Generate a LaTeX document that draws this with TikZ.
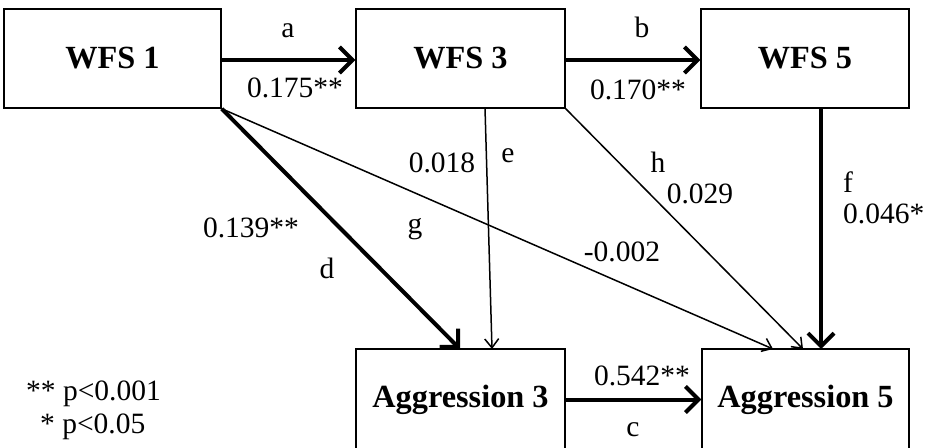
\documentclass[tikz,border=0pt]{standalone}
\usepackage{fontspec}
\setmainfont{Liberation Serif}
\usetikzlibrary{arrows.meta,calc}
\tikzset{
  box/.style={draw, line width=1.5pt, rectangle, minimum height=99pt, inner sep=0pt,
    font=\fontsize{32.3}{32}\selectfont\bfseries},
  lbl/.style={inner sep=0pt, anchor=base, font=\fontsize{29.5}{29}\selectfont},
  thickarr/.style={line width=4pt, -{Straight Barb[length=13pt,width=26pt,line width=4pt]}},
  thinarr/.style={line width=1.5pt, -{Straight Barb[length=9pt,width=14pt,line width=1.5pt]}}
}
\begin{document}
\begin{tikzpicture}[x=1pt,y=-1pt]
\useasboundingbox (0,0) rectangle (928,447);
\fill[white] (0,0) rectangle (928,447);
\node[box, minimum width=217pt] (w1) at (112.5,58.5) {WFS 1};
\node[box, minimum width=209pt] (w3) at (460.5,58.5) {WFS 3};
\node[box, minimum width=208pt] (w5) at (805,58.5) {WFS 5};
\node[box, minimum width=209pt, minimum height=101pt] (a3) at (460.5,399.5) {};
\node[box, minimum width=207pt, minimum height=101pt] (a5) at (805.5,399.5) {};
\node[inner sep=0pt, font=\fontsize{32.3}{32}\selectfont\bfseries] (a3t) at (460.5,400) {Aggression 3};
\node[inner sep=0pt, font=\fontsize{32.3}{32}\selectfont\bfseries] (a5t) at (805.5,400) {Aggression 5};
% end points
\coordinate (fs) at (821,108);
\coordinate (fe) at (821,349);
\coordinate (dEnd) at (460,349);
\coordinate (gEnd) at (773,349);
\coordinate (es) at (485,108);
\coordinate (eEnd) at (492,349);
\coordinate (hEnd) at (803,349);
% connectors
\draw[thickarr] (w1.east |- 0,60) -- (w3.west |- 0,60);
\draw[thickarr] (w3.east |- 0,60) -- (w5.west |- 0,60);
\draw[thickarr] (a3.east) -- (a5.west);
\draw[thickarr] (fs) -- (fe);
\draw[thickarr] (w1.south east) -- (dEnd);
\draw[thinarr] (w1.south east) -- (gEnd);
\draw[thinarr] (es) -- (eEnd);
\draw[thinarr] (w3.south east) -- (hEnd);
% labels
\node[lbl] (la) at (288,37) {a};
\node[lbl] (va) at (295,97) {0.175**};
\node[lbl] (lb) at (642,37) {b};
\node[lbl] (vb) at (638,99) {0.170**};
\node[lbl] (ve) at (442,172) {0.018};
\node[lbl] (le) at (508,162) {e};
\node[lbl] (vd) at (251,237) {0.139**};
\node[lbl] (ld) at (327,278) {d};
\node[lbl] (lg) at (415,233) {g};
\node[lbl] (lh) at (658,172) {h};
\node[lbl] (vh) at (700,203) {0.029};
\node[lbl, anchor=base west] (lf) at (843,192) {f};
\node[lbl, anchor=base west] (vf) at (843,223) {0.046*};
\node[lbl] (vg) at (622,261) {-0.002};
\node[lbl] (vc) at (642,385) {0.542**};
\node[lbl] (lc) at (633,436) {c};
\node[lbl, anchor=base west] (p1) at (26,400) {** p<0.001};
\node[lbl, anchor=base west] (p2) at (40,433) {* p<0.05};
\end{tikzpicture}
\end{document}
